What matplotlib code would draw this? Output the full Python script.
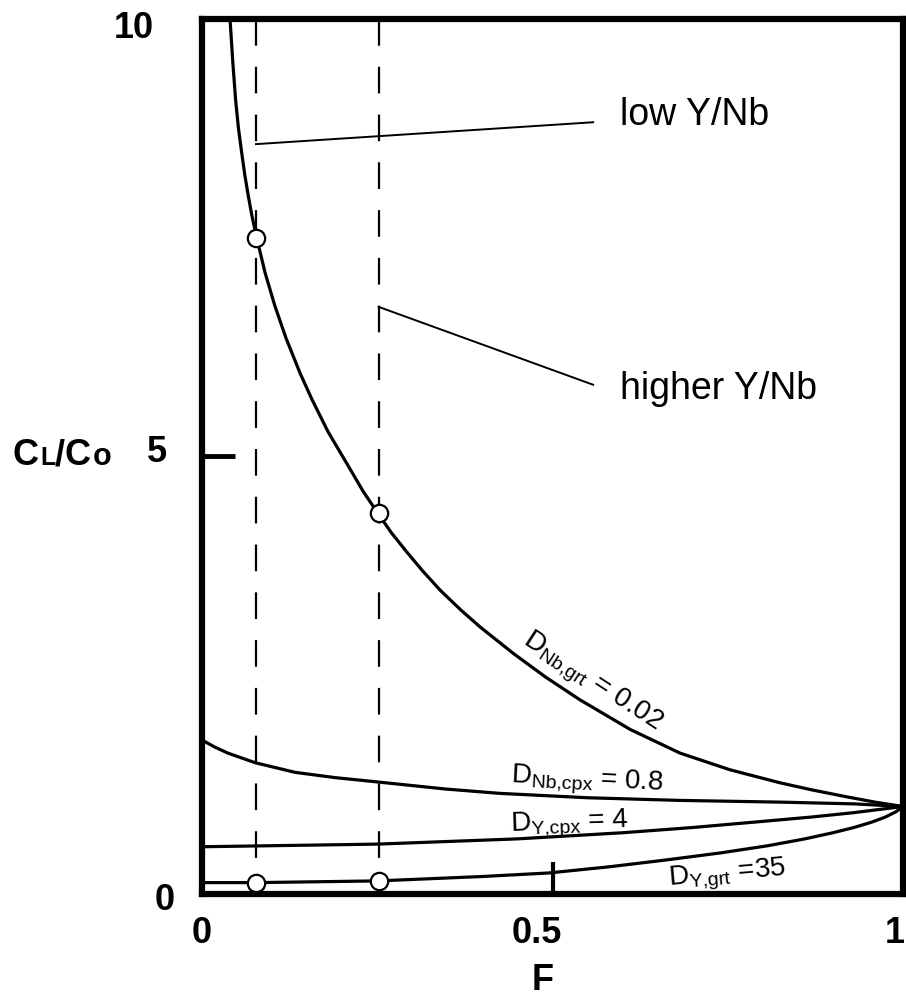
import matplotlib
matplotlib.use('Agg')
import matplotlib.pyplot as plt

plt.rcParams['font.family'] = 'Liberation Sans'

# melt fraction F and C_L/C_0
F_nb_grt = [0.040, 0.044, 0.048, 0.052, 0.057, 0.061, 0.066, 0.071, 0.078, 0.090,
            0.104, 0.120, 0.140, 0.157, 0.180, 0.211, 0.230, 0.251, 0.270, 0.292,
            0.315, 0.340, 0.370, 0.397, 0.444, 0.490, 0.539, 0.611, 0.682, 0.753,
            0.825, 0.870, 0.920, 0.960, 1.000]
C_nb_grt = [10.0, 9.50, 9.07, 8.75, 8.45, 8.22, 7.98, 7.76, 7.50, 7.10,
            6.72, 6.35, 5.95, 5.65, 5.28, 4.86, 4.60, 4.35, 4.13, 3.91,
            3.69, 3.47, 3.24, 3.05, 2.75, 2.48, 2.22, 1.88, 1.61, 1.42,
            1.27, 1.19, 1.11, 1.05, 1.00]

F_nb_cpx = [0.0, 0.018, 0.037, 0.076, 0.133, 0.19, 0.251, 0.347, 0.425, 0.55,
            0.68, 0.825, 0.93, 1.0]
C_nb_cpx = [1.76, 1.68, 1.61, 1.50, 1.39, 1.33, 1.28, 1.20, 1.15, 1.10,
            1.07, 1.05, 1.03, 1.0]

F_y_cpx = [0.0, 0.25, 0.45, 0.60, 0.70, 0.80, 0.87, 0.93, 0.97, 1.0]
C_y_cpx = [0.54, 0.57, 0.63, 0.70, 0.76, 0.83, 0.88, 0.93, 0.97, 1.0]

F_y_grt = [0.0, 0.077, 0.252, 0.40, 0.494, 0.58, 0.663, 0.74, 0.806, 0.860,
           0.900, 0.930, 0.955, 0.975, 0.990, 1.0]
C_y_grt = [0.13, 0.13, 0.15, 0.20, 0.24, 0.31, 0.39, 0.47, 0.55, 0.63,
           0.70, 0.76, 0.82, 0.88, 0.94, 1.0]

# the two melt fractions marked by dashed lines and circles
F_marks = [0.077, 0.252]
C_mark_nb = [7.50, 4.35]
C_mark_y = [0.13, 0.15]

W, H = 906, 996
fig = plt.figure(figsize=(W / 100, H / 100), dpi=100)
ax = fig.add_axes([202 / W, 1 - 894 / H, 701 / W, 875 / H])


def px(x, y):
    return x / W, 1 - y / H


ax.set_xlim(0, 1)
ax.set_ylim(0, 10)

for s in ax.spines.values():
    s.set_linewidth(4.5)

ax.set_xticks([0.5])
ax.set_yticks([5])
ax.tick_params(axis='x', direction='in', length=23, width=3, labelbottom=False)
ax.tick_params(axis='y', direction='in', length=24, width=3.5, labelleft=False)

lw = 2.3
ax.plot(F_nb_grt, C_nb_grt, color='black', lw=lw)
ax.plot(F_nb_cpx, C_nb_cpx, color='black', lw=lw)
ax.plot(F_y_cpx, C_y_cpx, color='black', lw=lw)
ax.plot(F_y_grt, C_y_grt, color='black', lw=lw)

for f in F_marks:
    ax.plot([f, f], [10, 0], color='black', lw=1.6, linestyle=(0, (12, 9.5)))

ax.plot(F_marks, C_mark_nb, 'o', ms=12.5, mfc='white', mec='black', mew=1.6)
ax.plot(F_marks, C_mark_y, 'o', ms=12.5, mfc='white', mec='black', mew=1.6)

# annotation lines
ax.plot([0.077, 0.558], [8.57, 8.82], color='black', lw=1.4)
ax.plot([0.252, 0.558], [6.71, 5.82], color='black', lw=1.4)
ax.text(0.596, 8.79, 'low Y/Nb', fontsize=27, ha='left', va='baseline')
ax.text(0.596, 5.66, 'higher Y/Nb', fontsize=27, ha='left', va='baseline')

# curve labels
ax.text(0.556, 2.42, r'D$_\mathregular{Nb{,}grt}$ = 0.02', fontsize=20, rotation=-33,
        ha='center', va='center', rotation_mode='anchor')
ax.text(0.549, 1.29, r'D$_\mathregular{Nb{,}cpx}$ = 0.8', fontsize=20, rotation=-3,
        ha='center', va='center', rotation_mode='anchor')
ax.text(0.524, 0.80, r'D$_\mathregular{Y{,}cpx}$ = 4', fontsize=20, rotation=2,
        ha='center', va='center', rotation_mode='anchor')
ax.text(0.749, 0.21, r'D$_\mathregular{Y{,}grt}$ =35', fontsize=20, rotation=5,
        ha='center', va='center', rotation_mode='anchor')

# tick labels
bold = dict(fontsize=26, fontweight='bold', va='center')
fig.text(*px(134, 28), '10', ha='center', **bold)
fig.text(*px(157, 453), '5', ha='center', **bold)
fig.text(*px(165, 900), '0', ha='center', **bold)
fig.text(*px(202, 933), '0', ha='center', **bold)
fig.text(*px(537, 933), '0.5', ha='center', **bold)
fig.text(*px(905, 933), '1', ha='right', **bold)
fig.text(*px(543, 980), 'F', ha='center', **bold)

# y label C_L/C_o
base = 465
fig.text(*px(13, base), 'C', fontsize=26, fontweight='bold', va='baseline')
fig.text(*px(40, base), 'L', fontsize=18, fontweight='bold', va='baseline')
fig.text(*px(55, base), '/', fontsize=26, fontweight='bold', va='baseline')
fig.text(*px(65, base), 'C', fontsize=26, fontweight='bold', va='baseline')
fig.text(*px(93, base), 'o', fontsize=22, fontweight='bold', va='baseline')

fig.savefig('out.png', dpi=100)
